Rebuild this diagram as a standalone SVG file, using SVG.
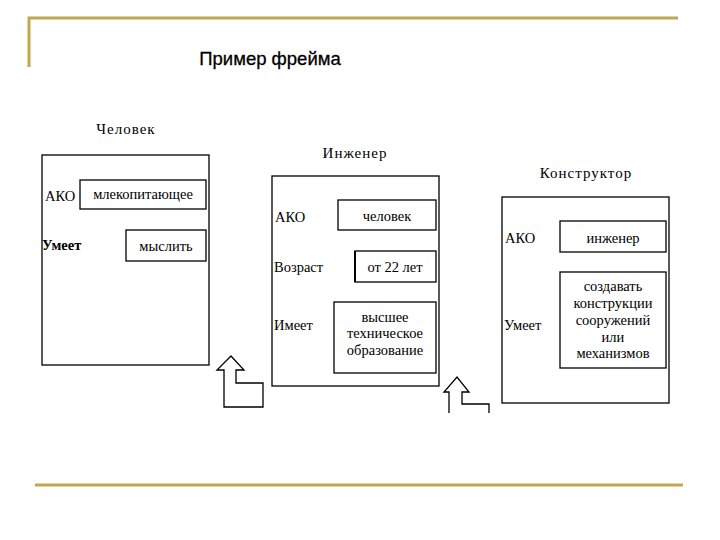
<svg xmlns="http://www.w3.org/2000/svg" width="720" height="540" viewBox="0 0 720 540">
<style>
.rule{stroke:#c0a850;stroke-width:3;fill:none}
.frame{fill:none;stroke:#000;stroke-width:1.3}
.slot{fill:#fff;stroke:#000;stroke-width:1.3}
.t{font-family:"Liberation Serif","Times New Roman",serif;font-size:14.5px;fill:#000}
.c{text-anchor:middle}
.name{font-family:"Liberation Serif","Times New Roman",serif;font-size:15px;fill:#000;letter-spacing:1px}
.arrow{fill:none;stroke:#000;stroke-width:1.3}
</style>
<rect width="720" height="540" fill="#fff"/>
<path class="rule" d="M29,67 V18 H678"/>
<path class="rule" d="M35,485 H683"/>
<text x="270" y="65" text-anchor="middle" font-family="Liberation Sans, Arial, sans-serif" font-size="18.5" fill="#000" stroke="#000" stroke-width="0.3">Пример фрейма</text>

<g id="frame-chelovek">
<text class="name" x="126" y="134" text-anchor="middle">Человек</text>
<rect class="frame" x="42" y="155" width="167" height="210"/>
<text class="t" x="45" y="201">АКО</text>
<rect class="slot" x="80" y="180" width="126" height="29" stroke-width="2"/>
<text class="t c" x="143" y="199">млекопитающее</text>
<text class="t" x="42" y="250" font-weight="bold">Умеет</text>
<rect class="slot" x="126" y="230" width="80" height="31"/>
<text class="t c" x="166" y="251">мыслить</text>
</g>

<g id="frame-inzhener">
<text class="name" x="355" y="158" text-anchor="middle">Инженер</text>
<rect class="frame" x="272" y="176" width="167" height="210"/>
<text class="t" x="275" y="222">АКО</text>
<rect class="slot" x="338" y="200" width="98" height="30"/>
<text class="t c" x="387" y="221">человек</text>
<text class="t" x="274" y="272">Возраст</text>
<rect class="slot" x="355" y="251" width="81" height="31"/>
<line x1="355" y1="251" x2="355" y2="282" stroke="#000" stroke-width="2"/>
<text class="t c" x="395" y="272">от 22 лет</text>
<text class="t" x="274" y="330">Имеет</text>
<rect class="slot" x="334" y="302" width="102" height="71"/>
<text class="t c" x="385" y="322">высшее</text>
<text class="t c" x="385" y="338">техническое</text>
<text class="t c" x="385" y="355">образование</text>
</g>

<g id="frame-konstruktor">
<text class="name" x="586" y="178" text-anchor="middle">Конструктор</text>
<rect class="frame" x="502" y="197" width="167" height="206"/>
<text class="t" x="505" y="243">АКО</text>
<rect class="slot" x="560" y="221" width="106" height="31"/>
<text class="t c" x="613" y="243">инженер</text>
<text class="t" x="504" y="330">Умеет</text>
<rect class="slot" x="560" y="272" width="106" height="96"/>
<text class="t c" x="613" y="291">создавать</text>
<text class="t c" x="613" y="308">конструкции</text>
<text class="t c" x="613" y="325">сооружений</text>
<text class="t c" x="613" y="342">или</text>
<text class="t c" x="613" y="358">механизмов</text>
</g>

<g id="connectors">
<path class="arrow" d="M231,356 L244,370 H236 V383 H263 V407 H224 V370 H217 Z"/>
<path class="arrow" d="M449,413 V392 H444 L457,377 L469,392 H462 V404 H489 V413"/>
</g>
</svg>
